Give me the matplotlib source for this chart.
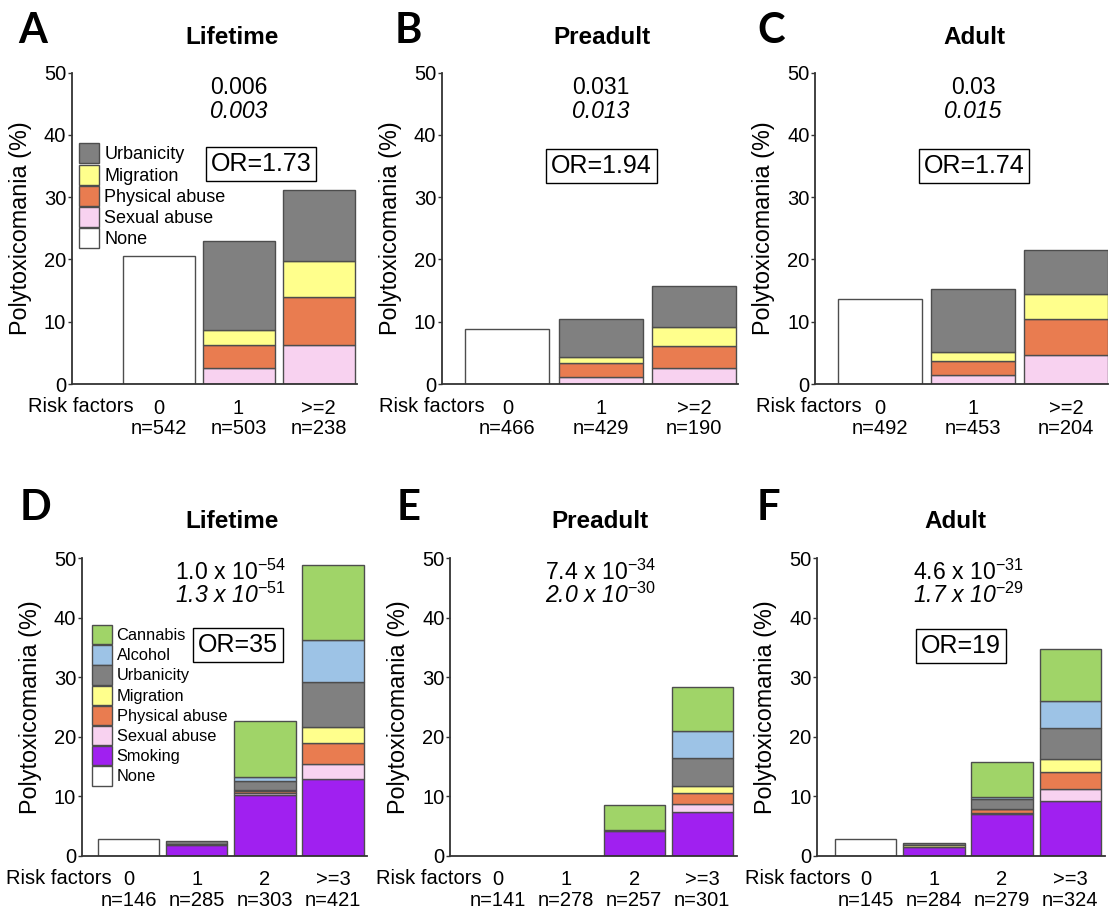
import matplotlib
matplotlib.use('Agg')
import matplotlib.pyplot as plt
from matplotlib.patches import Patch

plt.rcParams['font.family'] = ['Liberation Sans', 'DejaVu Sans']
plt.rcParams['mathtext.fontset'] = 'custom'
plt.rcParams['mathtext.rm'] = 'Liberation Sans'
plt.rcParams['mathtext.it'] = 'Liberation Sans:italic'
plt.rcParams['mathtext.default'] = 'regular'

# ---- data (percent with polytoxicomania) ----
risk3 = ['0', '1', '>=2']
risk4 = ['0', '1', '2', '>=3']

# A - lifetime, environmental factors
n_a = [542, 503, 238]
none_a = [20.6, 0, 0]
sexual_a = [0, 2.5, 6.2]
physical_a = [0, 3.8, 7.8]
migration_a = [0, 2.4, 5.8]
urban_a = [0, 14.3, 11.4]

# B - preadult
n_b = [466, 429, 190]
none_b = [8.8, 0, 0]
sexual_b = [0, 1.1, 2.5]
physical_b = [0, 2.2, 3.6]
migration_b = [0, 1.1, 3.0]
urban_b = [0, 6.0, 6.7]

# C - adult
n_c = [492, 453, 204]
none_c = [13.6, 0, 0]
sexual_c = [0, 1.4, 4.7]
physical_c = [0, 2.3, 5.7]
migration_c = [0, 1.5, 4.0]
urban_c = [0, 10.0, 7.2]

# D - lifetime, incl. substances
n_d = [146, 285, 303, 421]
none_d = [2.75, 0, 0, 0]
smoking_d = [0, 1.75, 10.25, 12.9]
sexual_d = [0, 0, 0.35, 2.6]
physical_d = [0, 0, 0.35, 3.5]
migration_d = [0, 0.3, 0.1, 2.6]
urban_d = [0, 0.4, 1.5, 7.6]
alcohol_d = [0, 0, 0.75, 7.1]
cannabis_d = [0, 0, 9.3, 12.5]

# E - preadult
n_e = [141, 278, 257, 301]
none_e = [0, 0, 0, 0]
smoking_e = [0, 0, 4.2, 7.4]
sexual_e = [0, 0, 0, 1.3]
physical_e = [0, 0, 0, 1.8]
migration_e = [0, 0, 0, 1.3]
urban_e = [0, 0, 0.1, 4.6]
alcohol_e = [0, 0, 0, 4.6]
cannabis_e = [0, 0, 4.3, 7.4]

# F - adult
n_f = [145, 284, 279, 324]
none_f = [2.75, 0, 0, 0]
smoking_f = [0, 1.5, 6.95, 9.25]
sexual_f = [0, 0, 0.3, 1.95]
physical_f = [0, 0, 0.55, 2.8]
migration_f = [0, 0.3, 0.1, 2.2]
urban_f = [0, 0.4, 1.6, 5.2]
alcohol_f = [0, 0, 0.4, 4.6]
cannabis_f = [0, 0, 5.9, 8.7]

colors = {
    'None': 'white',
    'Smoking': '#A020F0',
    'Sexual abuse': '#F8D2F0',
    'Physical abuse': '#E97C50',
    'Migration': '#FFFF8C',
    'Urbanicity': '#808080',
    'Alcohol': '#9DC3E6',
    'Cannabis': '#A0D468',
}
edge = '#4d4d4d'

W, H = 1110, 908
fig = plt.figure(figsize=(W / 100, H / 100), dpi=100)


def px_axes(l, r, top, bottom):
    return fig.add_axes([l / W, 1 - bottom / H, (r - l) / W, (bottom - top) / H])


def draw_panel(ax, cats, ns, layers, xlim, rf_off):
    x = list(range(len(cats)))
    bottom = [0.0] * len(cats)
    for name, vals in layers:
        idx = [i for i, v in enumerate(vals) if v > 0]
        if not idx:
            continue
        ax.bar([x[i] for i in idx], [vals[i] for i in idx], 0.9,
               bottom=[bottom[i] for i in idx], color=colors[name],
               edgecolor=edge, linewidth=1.0)
        for i in idx:
            bottom[i] += vals[i]
    ax.set_xlim(*xlim)
    ax.set_ylim(0, 50)
    ax.set_yticks([0, 10, 20, 30, 40, 50])
    ax.set_xticks(x, [c + '\nn=' + str(n) for c, n in zip(cats, ns)],
                  linespacing=1.12)
    for s in ['top', 'right']:
        ax.spines[s].set_visible(False)
    for s in ['left', 'bottom']:
        ax.spines[s].set_color('#333333')
        ax.spines[s].set_linewidth(1.3)
    ax.tick_params(axis='x', length=0, pad=10.5, labelsize=14.5)
    ax.tick_params(axis='y', length=3, width=1, pad=1, labelsize=14.5,
                   color='#333333')
    ax.set_ylabel('Polytoxicomania (%)', fontsize=16.8)
    wpx = ax.get_position().width * W
    ax.yaxis.set_label_coords(-40 / wpx, 0.5)
    ax.annotate('Risk factors', xy=(0, 0), xycoords=('data', 'axes fraction'),
                xytext=(-rf_off, -23), textcoords='offset pixels',
                ha='right', va='center', fontsize=14.5)


def pvals(ax, x, top, bottom):
    ax.text(x, 0.953, top, transform=ax.get_xaxis_transform(),
            ha='center', va='center', fontsize=16.6)
    ax.text(x, 0.874, bottom, transform=ax.get_xaxis_transform(),
            ha='center', va='center', fontsize=16.6, style='italic')


def or_box(ax, x, y, txt):
    ax.text(x, y, txt, transform=ax.get_xaxis_transform(), ha='center',
            va='center', fontsize=18,
            bbox=dict(boxstyle='square,pad=0.2', fc='white', ec='black', lw=1))


def title(ax, x, y, txt):
    ax.text(x, y, txt, transform=ax.get_xaxis_transform(), ha='center',
            va='center', fontsize=17.5, fontweight='bold')


env = lambda none, sx, ph, mi, ur: [('None', none), ('Sexual abuse', sx),
                                    ('Physical abuse', ph), ('Migration', mi),
                                    ('Urbanicity', ur)]
full = lambda none, sm, sx, ph, mi, ur, al, ca: [
    ('None', none), ('Smoking', sm), ('Sexual abuse', sx),
    ('Physical abuse', ph), ('Migration', mi), ('Urbanicity', ur),
    ('Alcohol', al), ('Cannabis', ca)]

axA = px_axes(71.7, 357, 72.7, 384)
draw_panel(axA, risk3, n_a, env(none_a, sexual_a, physical_a, migration_a, urban_a),
           (-1.085, 2.48), 24.5)
title(axA, 0.925, 1.112, 'Lifetime')
pvals(axA, 1, '0.006', '0.003')
or_box(axA, 1.28, 0.706, 'OR=1.73')

axB = px_axes(441.7, 738, 72.7, 384)
draw_panel(axB, risk3, n_b, env(none_b, sexual_b, physical_b, migration_b, urban_b),
           (-0.705, 2.47), 22.5)
title(axB, 1.01, 1.112, 'Preadult')
pvals(axB, 1, '0.031', '0.013')
or_box(axB, 1.01, 0.701, 'OR=1.94')

axC = px_axes(815, 1108, 72.7, 384)
draw_panel(axC, risk3, n_c, env(none_c, sexual_c, physical_c, migration_c, urban_c),
           (-0.70, 2.45), 18.6)
title(axC, 1.01, 1.112, 'Adult')
pvals(axC, 1, '0.03', '0.015')
or_box(axC, 1.01, 0.699, 'OR=1.74')

axD = px_axes(81.7, 367, 558.3, 855.7)
draw_panel(axD, risk4, n_d, full(none_d, smoking_d, sexual_d, physical_d, migration_d,
                                 urban_d, alcohol_d, cannabis_d), (-0.69, 3.5), 16.8)
title(axD, 1.52, 1.124, 'Lifetime')
pvals(axD, 1.5, '1.0 x 10$^{-54}$', '1.3 x 10$^{\\mathit{-51}}$')
or_box(axD, 1.61, 0.7095, 'OR=35')

axE = px_axes(450, 737, 558.3, 855.7)
draw_panel(axE, risk4, n_e, full(none_e, smoking_e, sexual_e, physical_e, migration_e,
                                 urban_e, alcohol_e, cannabis_e), (-0.71, 3.51), 16.3)
title(axE, 1.5, 1.124, 'Preadult')
pvals(axE, 1.5, '7.4 x 10$^{-34}$', '2.0 x 10$^{\\mathit{-30}}$')

axF = px_axes(817.3, 1105, 558.3, 855.7)
draw_panel(axF, risk4, n_f, full(none_f, smoking_f, sexual_f, physical_f, migration_f,
                                 urban_f, alcohol_f, cannabis_f), (-0.71, 3.51), 15.5)
title(axF, 1.32, 1.124, 'Adult')
pvals(axF, 1.5, '4.6 x 10$^{-31}$', '1.7 x 10$^{\\mathit{-29}}$')
or_box(axF, 1.40, 0.705, 'OR=19')

# legends
legA = ['Urbanicity', 'Migration', 'Physical abuse', 'Sexual abuse', 'None']
fig.legend(handles=[Patch(fc=colors[k], ec=edge, label=k) for k in legA],
           loc='upper left', bbox_to_anchor=(79.3 / W, 1 - 143.3 / H),
           frameon=False, borderpad=0, borderaxespad=0, handlelength=1.107,
           handleheight=1.33, labelspacing=0.066, handletextpad=0.28, fontsize=13)
legD = ['Cannabis', 'Alcohol', 'Urbanicity', 'Migration', 'Physical abuse',
        'Sexual abuse', 'Smoking', 'None']
fig.legend(handles=[Patch(fc=colors[k], ec=edge, label=k) for k in legD],
           loc='upper left', bbox_to_anchor=(92.3 / W, 1 - 625 / H),
           frameon=False, borderpad=0, borderaxespad=0, handlelength=1.18,
           handleheight=1.44, labelspacing=0.05, handletextpad=0.3, fontsize=11.8)

# panel letters
for letter, lx, by in [('A', 18, 43), ('B', 395, 43), ('C', 757, 43),
                       ('D', 20, 520), ('E', 397, 520), ('F', 757, 520)]:
    fig.text(lx / W, 1 - by / H, letter, ha='left', va='baseline',
             fontsize=30, fontweight='bold', family=['Lato', 'DejaVu Sans'])

fig.savefig('out.png', dpi=100)
